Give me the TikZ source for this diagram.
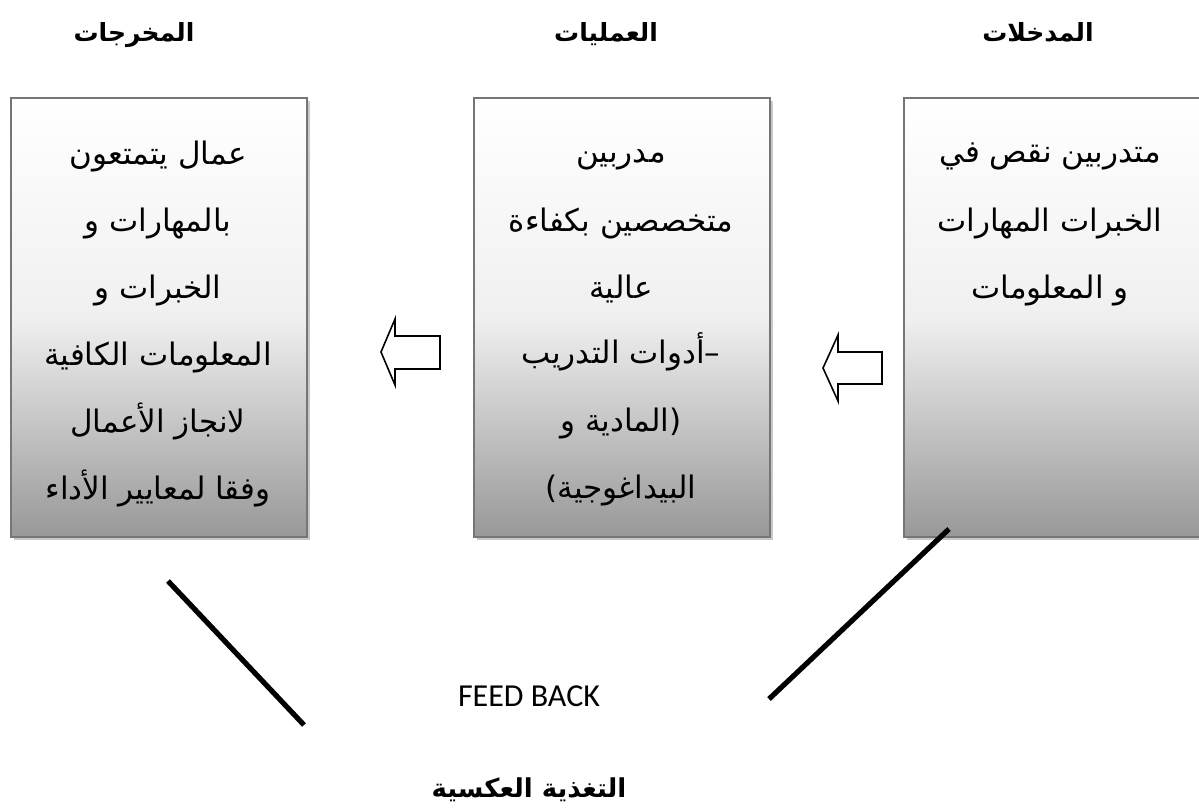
\documentclass[tikz,border=0pt]{standalone}
\usepackage{fontspec}
\TeXXeTstate=1
\newfontfamily\arabicfont[Script=Arabic]{DejaVu Sans}
\newfontfamily\arabicbold[Script=Arabic]{DejaVu Sans Bold}
\newfontfamily\latinfont{Carlito}
\usetikzlibrary{calc}
\definecolor{boxbot}{RGB}{152,152,152}
\definecolor{boxborder}{RGB}{118,118,118}
\definecolor{shadowgray}{RGB}{200,200,200}
\tikzset{
  panel/.style={draw=boxborder, line width=2pt, top color=white, bottom color=boxbot, middle color=white!85!boxbot},
  panelshadow/.style={fill=shadowgray, draw=none},
  boxline/.style={anchor=base, font=\arabicfont\fontsize{31}{34}\selectfont, inner sep=0pt},
  title/.style={anchor=base, font=\arabicbold\fontsize{25}{28}\selectfont, inner sep=0pt},
  blockarrow/.style={draw=black, line width=1.6pt, fill=white, line join=miter},
  fbline/.style={line width=5.2pt, line cap=butt}
}
\newcommand{\ar}[1]{\beginR #1\endR}
\begin{document}
\begin{tikzpicture}[x=1pt,y=-1pt]
\useasboundingbox (0,0) rectangle (1199,807);
% shadows
\fill[panelshadow] (14,101) rectangle (310,540);
\fill[panelshadow] (477,101) rectangle (773,540);
\fill[panelshadow] (907,101) rectangle (1203,540);
% boxes
\node[panel, minimum width=296pt, minimum height=439pt, anchor=north west, inner sep=0pt] (outbox) at (10,97) {};
\node[panel, minimum width=296pt, minimum height=439pt, anchor=north west, inner sep=0pt] (procbox) at (473,97) {};
\node[panel, minimum width=296pt, minimum height=439pt, anchor=north west, inner sep=0pt] (inbox) at (903,97) {};
% titles
\node[title] (tout) at (134,41) {\ar{المخرجات}};
\node[title] (tproc) at (606,41) {\ar{العمليات}};
\node[title] (tin) at (1038,41) {\ar{المدخلات}};
% outputs text
\node[boxline] (o1) at (158,164) {\ar{عمال يتمتعون}};
\node[boxline] (o2) at (158,231) {\ar{بالمهارات و}};
\node[boxline] (o3) at (158,298) {\ar{الخبرات و}};
\node[boxline] (o4) at (158,365) {\ar{المعلومات الكافية}};
\node[boxline] (o5) at (158,432) {\ar{لانجاز الأعمال}};
\node[boxline] (o6) at (158,499) {\ar{وفقا لمعايير الأداء}};
% process text
\node[boxline] (p1) at (621,162) {\ar{مدربين}};
\node[boxline] (p2) at (621,231) {\ar{متخصصين بكفاءة}};
\node[boxline] (p3) at (621,298) {\ar{عالية}};
\node[boxline] (p4) at (621,363) {\ar{–أدوات التدريب}};
\node[boxline] (p5) at (621,431) {\ar{(المادية و}};
\node[boxline] (p6) at (621,498) {\ar{البيداغوجية)}};
% inputs text
\node[boxline] (i1) at (1050,162) {\ar{متدربين نقص في}};
\node[boxline] (i2) at (1050,231) {\ar{الخبرات المهارات}};
\node[boxline] (i3) at (1050,298) {\ar{و المعلومات}};
% block arrows
\draw[blockarrow] (381,352) -- (395,319) -- (395,336) -- (440,336) -- (440,369) -- (395,369) -- (395,385) -- cycle;
\draw[blockarrow] (823,368) -- (838,335) -- (838,352) -- (882,352) -- (882,384) -- (838,384) -- (838,401) -- cycle;
% feedback lines
\coordinate (fl1) at (168,581);
\coordinate (fl2) at (304,725);
\coordinate (fr1) at (949,529);
\coordinate (fr2) at (769,699);
\draw[fbline] (fl1) -- (fl2);
\draw[fbline] (fr1) -- (fr2);
% feedback labels
\node[anchor=base, inner sep=0pt, font=\latinfont\fontsize{32}{36}\selectfont] (fb) at (529,706) {FEED BACK};
\node[anchor=base, inner sep=0pt, font=\arabicbold\fontsize{26}{30}\selectfont] (fbar) at (529,797) {\ar{التغذية العكسية}};
\end{tikzpicture}
\end{document}
